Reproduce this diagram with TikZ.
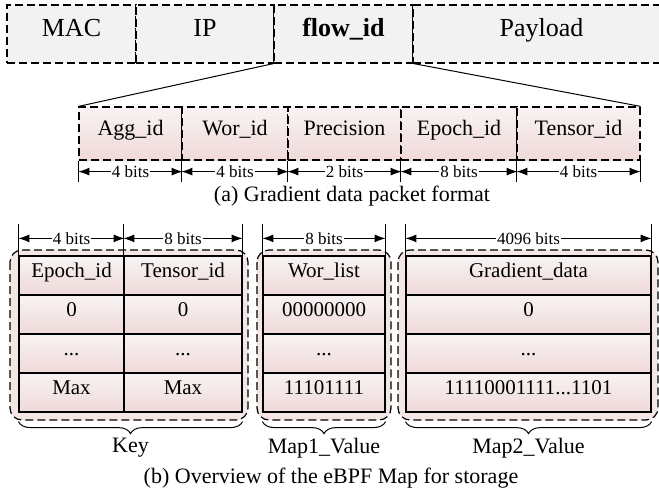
\documentclass[tikz,border=0pt]{standalone}
\usepackage{fontspec}
\setmainfont{Liberation Serif}
\usetikzlibrary{arrows.meta,calc,decorations.pathreplacing}
\definecolor{cellTop}{RGB}{248,243,243}
\definecolor{cellBot}{RGB}{240,217,217}
\definecolor{regionFill}{RGB}{245,230,230}

\begin{document}
\begin{tikzpicture}[
    x=1pt, y=-1pt,
    field/.style={draw, dash pattern=on 8pt off 4pt, line width=1.2pt, fill=gray!10, minimum height=58pt, inner sep=0pt, text height=0.7em, text depth=0.25em, font=\fontsize{26}{30}\selectfont},
    subfield/.style={draw, dash pattern=on 8pt off 4pt, line width=1.2pt, top color=cellTop, bottom color=cellBot, minimum height=53pt, inner sep=0pt, text height=0.7em, text depth=0.25em, font=\fontsize{22}{26}\selectfont},
    cell/.style={draw, line width=1.2pt, top color=cellTop, bottom color=cellBot, minimum height=39pt, inner sep=0pt, text height=0.7em, text depth=0.25em, font=\fontsize{21}{25}\selectfont},
    region/.style={draw, dash pattern=on 8pt off 4pt, line width=1.2pt, rounded corners=12pt, fill=regionFill},
    dim/.style={{Latex[length=11pt,width=8pt]}-{Latex[length=11pt,width=8pt]}, line width=1pt},
    bits/.style={fill=white, inner sep=1pt, font=\fontsize{17}{19}\selectfont},
    tick/.style={line width=1pt},
    curly/.style={decorate, decoration={brace, mirror, amplitude=12pt}, line width=1pt},
    mapname/.style={font=\fontsize{22}{26}\selectfont},
    capt/.style={font=\fontsize{22}{26}\selectfont}
]
    \clip (0,0) rectangle (659,495);

    % Packet header
    \node[field, minimum width=129pt] (mac) at (71.5,34) {MAC};
    \node[field, minimum width=138pt] (ip) at (205,34) {IP};
    \node[field, minimum width=139pt] (flow) at (343.5,34) {\textbf{flow\_id}};
    \node[field, minimum width=257pt] (payload) at (541.5,34) {Payload};

    % Fields inside flow_id
    \node[subfield, minimum width=103pt] (agg) at (130.5,133.5) {Agg\_id};
    \node[subfield, minimum width=106pt] (wor) at (235,133.5) {Wor\_id};
    \node[subfield, minimum width=113pt] (prec) at (344.5,133.5) {Precision};
    \node[subfield, minimum width=116pt] (epoch) at (459,133.5) {Epoch\_id};
    \node[subfield, minimum width=123pt] (tensor) at (578.5,133.5) {Tensor\_id};

    % Expansion lines
    \draw[line width=1pt] (flow.south west) -- (agg.north west);
    \draw[line width=1pt] (flow.south east) -- (tensor.north east);

    % Field widths
    \draw[tick] (agg.south west) -- ++(0,21);
    \draw[tick] (wor.south west) -- ++(0,21);
    \draw[tick] (prec.south west) -- ++(0,21);
    \draw[tick] (epoch.south west) -- ++(0,21);
    \draw[tick] (tensor.south west) -- ++(0,21);
    \draw[tick] (tensor.south east) -- ++(0,21);
    \draw[dim] ($(agg.south west)+(0,11)$) -- node[bits] {4 bits} ($(agg.south east)+(0,11)$);
    \draw[dim] ($(wor.south west)+(0,11)$) -- node[bits] {4 bits} ($(wor.south east)+(0,11)$);
    \draw[dim] ($(prec.south west)+(0,11)$) -- node[bits] {2 bits} ($(prec.south east)+(0,11)$);
    \draw[dim] ($(epoch.south west)+(0,11)$) -- node[bits] {8 bits} ($(epoch.south east)+(0,11)$);
    \draw[dim] ($(tensor.south west)+(0,11)$) -- node[bits] {4 bits} ($(tensor.south east)+(0,11)$);

    \node[capt] (capa) at (352,196) {(a) Gradient data packet format};

    % Map regions
    \draw[region] (10,250) rectangle (248,420);
    \draw[region] (257,250) rectangle (391,420);
    \draw[region] (398,250) rectangle (658,420);

    % Key table
    \node[cell, minimum width=105pt] (kepoch1) at (71.5,275.5) {Epoch\_id};
    \node[cell, minimum width=105pt] (kepoch2) at (71.5,314.5) {0};
    \node[cell, minimum width=105pt] (kepoch3) at (71.5,353.5) {...};
    \node[cell, minimum width=105pt] (kepoch4) at (71.5,392.5) {Max};
    \node[cell, minimum width=118pt] (ktensor1) at (183,275.5) {Tensor\_id};
    \node[cell, minimum width=118pt] (ktensor2) at (183,314.5) {0};
    \node[cell, minimum width=118pt] (ktensor3) at (183,353.5) {...};
    \node[cell, minimum width=118pt] (ktensor4) at (183,392.5) {Max};

    % Map1 value table
    \node[cell, minimum width=122pt] (wlist1) at (324,275.5) {Wor\_list};
    \node[cell, minimum width=122pt] (wlist2) at (324,314.5) {00000000};
    \node[cell, minimum width=122pt] (wlist3) at (324,353.5) {...};
    \node[cell, minimum width=122pt] (wlist4) at (324,392.5) {11101111};

    % Map2 value table
    \node[cell, minimum width=245pt] (grad1) at (528.5,275.5) {Gradient\_data};
    \node[cell, minimum width=245pt] (grad2) at (528.5,314.5) {0};
    \node[cell, minimum width=245pt] (grad3) at (528.5,353.5) {...};
    \node[cell, minimum width=245pt] (grad4) at (528.5,392.5) {11110001111...1101};

    % Entry widths
    \draw[tick] (kepoch1.north west) -- ++(0,-31);
    \draw[tick] (ktensor1.north west) -- ++(0,-31);
    \draw[tick] (ktensor1.north east) -- ++(0,-31);
    \draw[tick] (wlist1.north west) -- ++(0,-31);
    \draw[tick] (wlist1.north east) -- ++(0,-31);
    \draw[tick] (grad1.north west) -- ++(0,-31);
    \draw[tick] (grad1.north east) -- ++(0,-31);
    \draw[dim] ($(kepoch1.north west)+(0,-17)$) -- node[bits] {4 bits} ($(kepoch1.north east)+(0,-17)$);
    \draw[dim] ($(ktensor1.north west)+(0,-17)$) -- node[bits] {8 bits} ($(ktensor1.north east)+(0,-17)$);
    \draw[dim] ($(wlist1.north west)+(0,-17)$) -- node[bits] {8 bits} ($(wlist1.north east)+(0,-17)$);
    \draw[dim] ($(grad1.north west)+(0,-17)$) -- node[bits] {4096 bits} ($(grad1.north east)+(0,-17)$);

    % Braces and names
    \draw[curly] ($(kepoch4.south west)+(0,9)$) -- ($(ktensor4.south east)+(0,9)$);
    \draw[curly] ($(wlist4.south west)+(0,9)$) -- ($(wlist4.south east)+(0,9)$);
    \draw[curly] ($(grad4.south west)+(0,9)$) -- ($(grad4.south east)+(0,9)$);
    \node[mapname] (keyname) at (130.5,448) {Key};
    \node[mapname] (map1name) at (324,448) {Map1\_Value};
    \node[mapname] (map2name) at (528.5,448) {Map2\_Value};

    \node[capt] (capb) at (331,478) {(b) Overview of the eBPF Map for storage};
\end{tikzpicture}
\end{document}
